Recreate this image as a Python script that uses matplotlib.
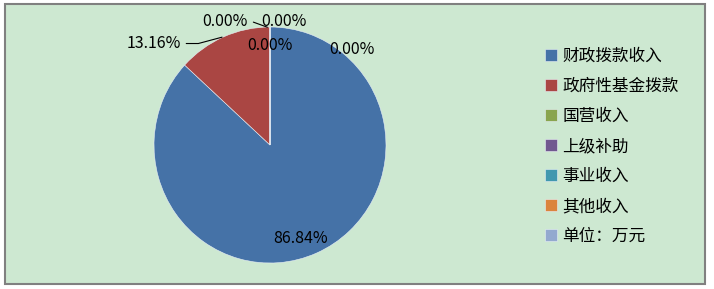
import numpy as np
import matplotlib.pyplot as plt
from matplotlib.patches import Rectangle

plt.rcParams['font.family'] = ['Noto Sans CJK SC', 'DejaVu Sans']

# data
labels = ['财政拨款收入', '政府性基金拨款', '国营收入', '上级补助', '事业收入', '其他收入', '单位：万元']
values = [86.84, 13.16, 0.0, 0.0, 0.0, 0.0, 0.0]
colors = ['#4572A7', '#AA4643', '#89A54E', '#71588F', '#4198AF', '#DB843D', '#93A9CF']

W, H = 714, 289
fig = plt.figure(figsize=(W / 100, H / 100), dpi=100)
bg = '#CDE8D1'
fig.patches.append(Rectangle((5 / W, 1 - 284 / H), 700 / W, 280 / H, transform=fig.transFigure,
                             facecolor=bg, edgecolor='#808080', linewidth=1.5, zorder=-5))

# pie area in pixels: x 154..386, y 27..263
ax = fig.add_axes([154 / W, 1 - 263 / H, 232 / W, 236 / H])
ax.set_zorder(2)
ax.patch.set_visible(False)
wedges, _ = ax.pie(values, colors=colors, startangle=90, counterclock=False,
                   wedgeprops=dict(edgecolor='#e8eef6', linewidth=0.4))
ax.set_aspect('auto')
ax.set_xlim(-1, 1)
ax.set_ylim(-1, 1)

fs = 11.5
# percent labels
pct = ['%.2f%%' % v for v in values]
# blue slice: inside
w = wedges[0]
a = np.deg2rad((w.theta1 + w.theta2) / 2)
ax.text(0.85 * np.cos(a) - 0.08, 0.85 * np.sin(a) - 0.01, pct[0], ha='center', va='center', fontsize=fs)

# red slice: outside with leader line
ax.annotate(pct[1], xy=(-0.39, 0.92), xytext=(-0.77, 0.86), ha='right', va='center', fontsize=fs,
            arrowprops=dict(arrowstyle='-', color='black', lw=0.8,
                            connectionstyle='angle,angleA=0,angleB=15,rad=0'))

# zero slices gather at the top
ax.annotate(pct[2], xy=(0.0, 0.99), xytext=(-0.19, 1.05), ha='right', va='center', fontsize=fs,
            arrowprops=dict(arrowstyle='-', color='black', lw=0.8,
                            connectionstyle='angle,angleA=0,angleB=-20,rad=0'))
ax.text(0.12, 1.05, pct[3], ha='center', va='center', fontsize=fs)
ax.text(0.0, 0.84, pct[4], ha='center', va='center', fontsize=fs)
ax.text(0.71, 0.81, pct[5], ha='center', va='center', fontsize=fs)

leg = fig.legend(wedges, labels, loc='upper left', bbox_to_anchor=(530 / W, 1 - 33 / H),
                 frameon=False, fontsize=12, handlelength=0.7, handleheight=0.7,
                 handletextpad=0.35, labelspacing=0.78)

plt.savefig('out.png', dpi=100)
